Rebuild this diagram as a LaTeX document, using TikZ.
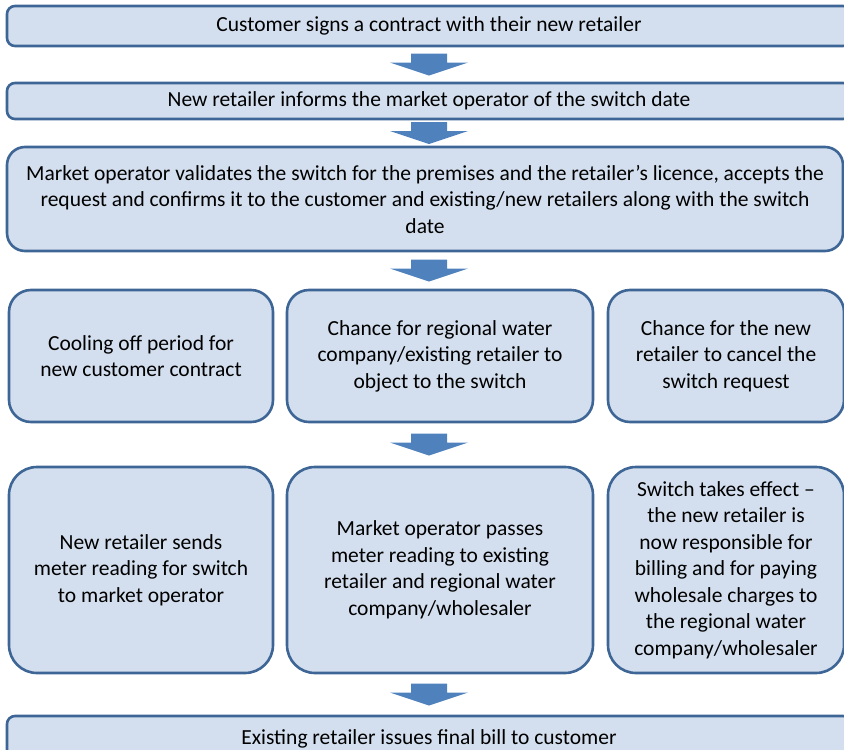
\documentclass[tikz,border=0pt]{standalone}
\usepackage{fontspec}
\setmainfont{Carlito}
\usetikzlibrary{positioning,calc}

\definecolor{boxfill}{HTML}{D3DFEE}
\definecolor{boxline}{HTML}{3D6595}
\definecolor{arrowfill}{HTML}{4F81BD}

% block arrow between two boxes, on the common axis
\newcommand{\flowarrow}[2]{%
  \path ($(#1.south)!.5!(#2.north)$) coordinate (mid);
  \fill[arrowfill] (axis |- mid) ++(-18,-11) -- ++(36,0) -- ++(0,9)
    -- ++(21,0) -- ++(-39,13) -- ++(-39,-13) -- ++(21,0) -- cycle;}

\begin{document}
\begin{tikzpicture}[x=1pt,y=-1pt,
    every node/.style={font=\fontsize{21.5}{26.5}\selectfont},
    main box/.style={rectangle,draw=boxline,fill=boxfill,line width=2.6pt,
                     align=center,inner sep=0pt},
    bar box/.style={main box,rounded corners=8pt,minimum width=844pt},
    step box/.style={main box,rounded corners=22pt,minimum height=132pt},
    tall box/.style={main box,rounded corners=28pt,minimum height=206pt}]
  \clip (0,0) rectangle (844,750);
  \coordinate (axis) at (429,0);

  \node[bar box,minimum height=40pt] (sign) at (429,26)
    {Customer signs a contract with their new retailer};
  \node[bar box,minimum height=36pt] (inform) at (429,101)
    {New retailer informs the market operator of the switch date};
  \node[main box,rounded corners=18pt,minimum width=836pt,minimum height=104pt] (validate) at (425,199)
    {Market operator validates the switch for the premises and the retailer’s licence, accepts the\\
     request and confirms it to the customer and existing/new retailers along with the switch\\
     date};

  \node[step box,minimum width=306pt] (object) at (440,356)
    {Chance for regional water\\company/existing retailer to\\object to the switch};
  \node[step box,minimum width=264pt,left=11.4pt of object] (cooling)
    {Cooling off period for\\new customer contract};
  \node[step box,minimum width=236pt,right=12.4pt of object] (cancel)
    {Chance for the new\\retailer to cancel the\\switch request};

  \node[tall box,minimum width=306pt] (passes) at (440,570)
    {Market operator passes\\meter reading to existing\\retailer and regional water\\company/wholesaler};
  \node[tall box,minimum width=264pt,left=11.4pt of passes] (sends)
    {New retailer sends\\meter reading for switch\\to market operator};
  \node[tall box,minimum width=236pt,right=12.4pt of passes] (effect)
    {Switch takes effect --\\the new retailer is\\now responsible for\\billing and for paying\\wholesale charges to\\the regional water\\company/wholesaler};

  \node[bar box,minimum height=46pt] (bill) at (429,739)
    {Existing retailer issues final bill to customer};

  \flowarrow{sign}{inform}
  \flowarrow{inform}{validate}
  \flowarrow{validate}{object}
  \flowarrow{object}{passes}
  \flowarrow{passes}{bill}
\end{tikzpicture}
\end{document}
